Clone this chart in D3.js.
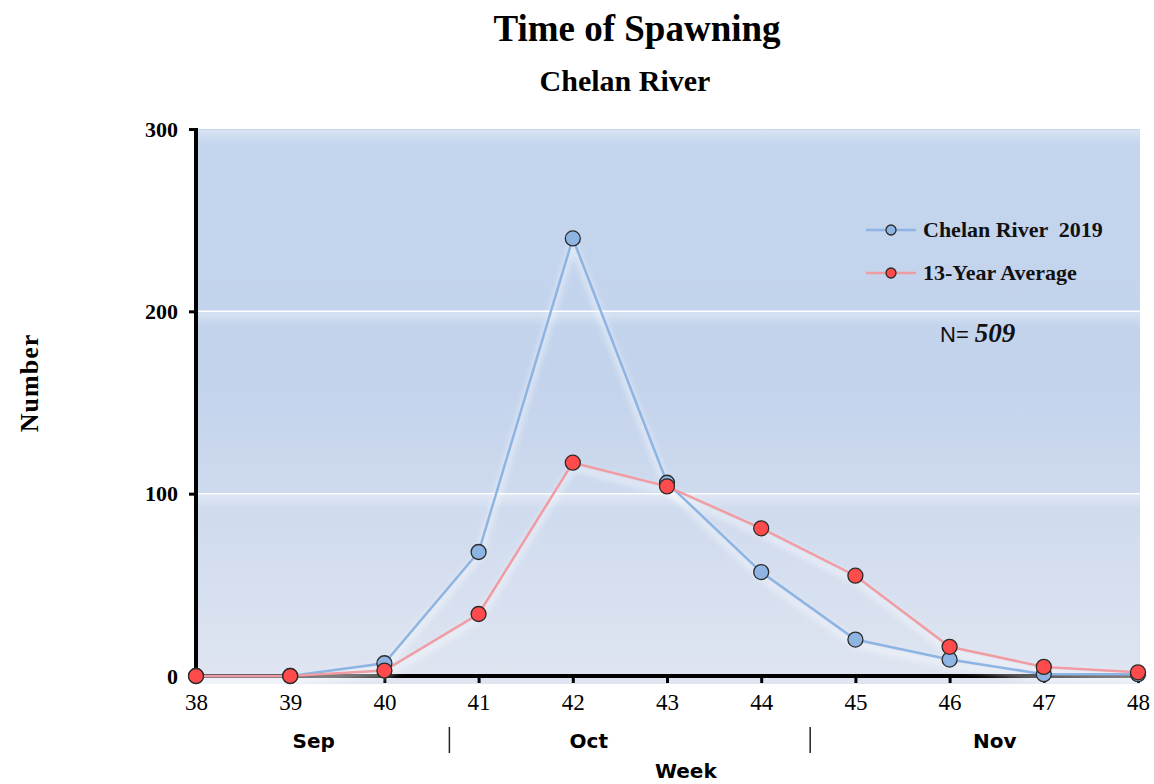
<!DOCTYPE html>
<html>
<head>
<meta charset="utf-8">
<script src="https://cdn.jsdelivr.net/npm/d3@7"></script>
<style>
  body { margin: 0; background: #fff; }
  svg { display: block; }
</style>
</head>
<body>
<div id="chart"></div>
<script>
// data
const weeks = [38, 39, 40, 41, 42, 43, 44, 45, 46, 47, 48];
const river2019 = [0, 0, 7, 68, 240, 106, 57, 20, 9, 1, 1];
const avg13 = [0, 0, 3, 34, 117, 104, 81, 55, 16, 5, 2];
const yTicks = [0, 100, 200, 300];
const months = [
    { name: "Sep", at: 39.25 },
    { name: "Oct", at: 42.17 },
    { name: "Nov", at: 46.48 }
];
const monthBreaks = [40.69, 44.52];

const W = 1154, H = 784;
const margin = { top: 129, right: 16, bottom: 108, left: 196 };
const width = 1138 - margin.left,
    height = 676 - margin.top;

const svg = d3.select("#chart")
    .append("svg")
    .attr("width", W)
    .attr("height", H);

const defs = svg.append("defs");
const bg = defs.append("linearGradient")
    .attr("id", "bg")
    .attr("x1", 0).attr("y1", 0).attr("x2", 0).attr("y2", 1);
bg.append("stop").attr("offset", "0%").attr("stop-color", "#c4d5ee");
bg.append("stop").attr("offset", "45%").attr("stop-color", "#c3d3ec");
bg.append("stop").attr("offset", "100%").attr("stop-color", "#dfe5f1");

const stripe = defs.append("linearGradient")
    .attr("id", "stripe")
    .attr("x1", 0).attr("y1", 0).attr("x2", 0).attr("y2", 1);
stripe.append("stop").attr("offset", "0%").attr("stop-color", "#ffffff").attr("stop-opacity", 0.35);
stripe.append("stop").attr("offset", "100%").attr("stop-color", "#ffffff").attr("stop-opacity", 0);

const glow = defs.append("filter").attr("id", "glow")
    .attr("x", "-5%").attr("y", "-5%").attr("width", "110%").attr("height", "120%");
glow.append("feGaussianBlur").attr("stdDeviation", 3);

const g = svg.append("g")
    .attr("transform", `translate(${margin.left},${margin.top})`);

const x = d3.scaleLinear().domain([38, 48]).range([0, width]);
const y = d3.scaleLinear().domain([0, 300]).range([height, 0]);

// plot background
g.append("rect")
    .attr("x", 0).attr("y", 0)
    .attr("width", width + 2).attr("height", height + 8)
    .attr("fill", "url(#bg)");

// light stripes below gridlines
yTicks.filter(d => d > 0).forEach(d => {
    g.append("rect")
        .attr("x", 0).attr("y", y(d) + 1)
        .attr("width", width + 2).attr("height", 14)
        .attr("fill", "url(#stripe)");
});

// gridlines
g.append("g")
    .selectAll("line")
    .data(yTicks.filter(d => d > 0 && d < 300))
    .enter().append("line")
    .attr("x1", 0).attr("x2", width + 2)
    .attr("y1", d => y(d)).attr("y2", d => y(d))
    .attr("stroke", "#ffffff")
    .attr("stroke-width", 1.5);

// y axis
const axisY = d3.axisLeft(y)
    .tickValues(yTicks)
    .tickSize(6)
    .tickPadding(12);
const gy = g.append("g").attr("class", "axis_y").call(axisY);
gy.select(".domain").remove();
gy.selectAll(".tick line").attr("stroke", "#000").attr("stroke-width", 3).attr("transform", "translate(-1,0)");
gy.selectAll(".tick text")
    .attr("font-family", "Liberation Serif, Times New Roman, serif")
    .attr("font-weight", "bold")
    .attr("font-size", 22)
    .attr("fill", "#000");
g.append("line")
    .attr("x1", 0).attr("x2", 0)
    .attr("y1", -1).attr("y2", height + 2)
    .attr("stroke", "#000").attr("stroke-width", 4);

// x axis
const axisX = d3.axisBottom(x)
    .tickValues(weeks)
    .tickFormat(d3.format("d"))
    .tickSize(7)
    .tickPadding(11);
const gx = g.append("g").attr("class", "axis_x")
    .attr("transform", `translate(0,${height})`)
    .call(axisX);
gx.select(".domain").remove();
gx.selectAll(".tick line").attr("stroke", "#000").attr("stroke-width", 3);
gx.selectAll(".tick text")
    .attr("font-family", "Liberation Serif, Times New Roman, serif")
    .attr("font-size", 23)
    .attr("fill", "#000");
g.append("line")
    .attr("x1", -2).attr("x2", width + 2)
    .attr("y1", height).attr("y2", height)
    .attr("stroke", "#000").attr("stroke-width", 4);

// months
const monthY = height + 72;
g.append("g").selectAll("text")
    .data(months)
    .enter().append("text")
    .attr("x", d => x(d.at))
    .attr("y", monthY)
    .attr("text-anchor", "middle")
    .attr("font-family", "DejaVu Sans, Verdana, sans-serif")
    .attr("font-weight", "bold")
    .attr("font-size", 20)
    .attr("fill", "#000")
    .text(d => d.name);
g.append("g").selectAll("line")
    .data(monthBreaks)
    .enter().append("line")
    .attr("x1", d => x(d)).attr("x2", d => x(d))
    .attr("y1", height + 51).attr("y2", height + 77)
    .attr("stroke", "#222").attr("stroke-width", 1.5);

g.append("text")
    .attr("x", x(43.2))
    .attr("y", height + 102)
    .attr("text-anchor", "middle")
    .attr("font-family", "DejaVu Sans, Verdana, sans-serif")
    .attr("font-weight", "bold")
    .attr("font-size", 20)
    .attr("fill", "#000")
    .text("Week");

// series
const series = [
    { name: "Chelan River  2019", values: river2019, line: "#8db4e2", fill: "#8db4e2" },
    { name: "13-Year Average", values: avg13, line: "#f09ca3", fill: "#ff4b4b" }
];

const line = d3.line()
    .x((d, i) => x(weeks[i]))
    .y(d => y(d));

const content = g.append("g").attr("class", "content");
series.forEach(s => {
    content.append("path")
        .datum(s.values)
        .attr("d", line)
        .attr("transform", "translate(0,5)")
        .attr("fill", "none")
        .attr("stroke", "#ffffff")
        .attr("stroke-opacity", 0.5)
        .attr("stroke-width", 6)
        .attr("filter", "url(#glow)");
});
series.forEach(s => {
    content.append("path")
        .datum(s.values)
        .attr("d", line)
        .attr("fill", "none")
        .attr("stroke", s.line)
        .attr("stroke-width", 2.5);
});
series.forEach(s => {
    content.append("g")
        .selectAll("circle")
        .data(s.values)
        .enter().append("circle")
        .attr("class", "mark")
        .attr("cx", (d, i) => x(weeks[i]))
        .attr("cy", d => y(d))
        .attr("r", 7.5)
        .attr("fill", s.fill)
        .attr("stroke", "#2b2b2b")
        .attr("stroke-width", 1.3);
});

// legend
const legend = svg.append("g").attr("transform", "translate(866,230)");
series.forEach((s, i) => {
    const row = legend.append("g").attr("transform", `translate(0,${i * 43})`);
    row.append("line")
        .attr("x1", 0).attr("x2", 50)
        .attr("stroke", s.line).attr("stroke-width", 2.5);
    row.append("circle")
        .attr("cx", 25).attr("r", 5)
        .attr("fill", s.fill)
        .attr("stroke", "#2b2b2b").attr("stroke-width", 1.3);
    row.append("text")
        .attr("x", 57).attr("y", 7)
        .attr("font-family", "Liberation Serif, Times New Roman, serif")
        .attr("font-weight", "bold")
        .attr("font-size", 22)
        .attr("fill", "#111")
        .attr("xml:space", "preserve")
        .text(s.name);
});

const nText = svg.append("text")
    .attr("x", 940).attr("y", 342)
    .attr("fill", "#111");
nText.append("tspan")
    .attr("font-family", "Liberation Sans, Arial, sans-serif")
    .attr("font-size", 22)
    .text("N= ");
nText.append("tspan")
    .attr("font-family", "Liberation Serif, Times New Roman, serif")
    .attr("font-weight", "bold")
    .attr("font-style", "italic")
    .attr("font-size", 27)
    .text("509");

// titles
svg.append("text")
    .attr("x", 637).attr("y", 41)
    .attr("text-anchor", "middle")
    .attr("font-family", "Liberation Serif, Times New Roman, serif")
    .attr("font-weight", "bold")
    .attr("font-size", 37)
    .attr("fill", "#000")
    .text("Time of Spawning");
svg.append("text")
    .attr("x", 625).attr("y", 91)
    .attr("text-anchor", "middle")
    .attr("font-family", "Liberation Serif, Times New Roman, serif")
    .attr("font-weight", "bold")
    .attr("font-size", 30)
    .attr("fill", "#000")
    .text("Chelan River");

svg.append("text")
    .attr("transform", "translate(38,383) rotate(-90)")
    .attr("text-anchor", "middle")
    .attr("font-family", "Liberation Serif, Times New Roman, serif")
    .attr("font-weight", "bold")
    .attr("font-size", 26)
    .attr("letter-spacing", 1)
    .attr("fill", "#000")
    .text("Number");
</script>
</body>
</html>
